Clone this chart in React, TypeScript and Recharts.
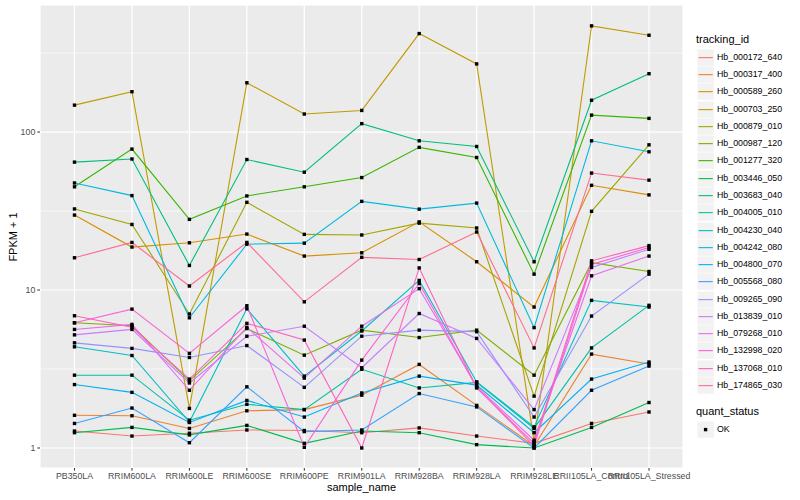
import React from "react";
import { LineChart, Line, XAxis, YAxis, CartesianGrid, ReferenceLine } from "recharts";

const samples = [
  "PB350LA", "RRIM600LA", "RRIM600LE", "RRIM600SE", "RRIM600PE", "RRIM901LA",
  "RRIM928BA", "RRIM928LA", "RRIM928LE", "RRII105LA_Control", "RRII105LA_Stressed",
];

const trackingIds = [
  "Hb_000172_640", "Hb_000317_400", "Hb_000589_260", "Hb_000703_250", "Hb_000879_010",
  "Hb_000987_120", "Hb_001277_320", "Hb_003446_050", "Hb_003683_040", "Hb_004005_010",
  "Hb_004230_040", "Hb_004242_080", "Hb_004800_070", "Hb_005568_080", "Hb_009265_090",
  "Hb_013839_010", "Hb_079268_010", "Hb_132998_020", "Hb_137068_010", "Hb_174865_030",
];

const hueColors = [
  "#F8766D", "#EA8331", "#D89000", "#C09B00", "#A3A500", "#7CAE00", "#39B600", "#00BB4E",
  "#00BF7D", "#00C1A3", "#00BFC4", "#00BAE0", "#00B0F6", "#35A2FF", "#9590FF", "#C77CFF",
  "#E76BF3", "#FA62DB", "#FF62BC", "#FF6C91",
];

// FPKM + 1, one value per sample
const hb000172_640 = [1.28, 1.19, 1.24, 1.3, 1.29, 1.25, 1.34, 1.19, 1.07, 1.43, 1.69];
const hb000317_400 = [1.61, 1.6, 1.33, 1.72, 1.75, 2.16, 3.38, 1.86, 1.03, 3.93, 3.4];
const hb000589_260 = [29.8, 18.7, 19.9, 22.6, 16.4, 17.2, 27.0, 15.1, 7.8, 46, 40];
const hb000703_250 = [148, 180, 1.78, 205, 130, 137, 420, 270, 1.1, 470, 410];
const hb000879_010 = [32.6, 26.0, 7.05, 35.9, 22.5, 22.3, 26.5, 24.7, 2.13, 31.5, 83];
const hb000987_120 = [6.2, 5.94, 2.66, 5.7, 3.87, 5.57, 5.0, 5.57, 2.89, 14.9, 13.1];
const hb001277_320 = [45, 78, 28, 39.4, 45, 51.5, 80, 69, 12.6, 128, 122];
const hb003446_050 = [1.25, 1.35, 1.21, 1.39, 1.07, 1.28, 1.25, 1.05, 1.0, 1.35, 1.94];
const hb003683_040 = [64.5, 67.5, 14.3, 67, 55.7, 113, 88, 81, 15.1, 159, 234];
const hb004005_010 = [2.89, 2.89, 1.5, 1.89, 1.75, 3.15, 2.4, 2.6, 1.33, 4.3, 8.0];
const hb004230_040 = [4.37, 3.85, 1.46, 7.6, 2.85, 5.5, 11.5, 2.62, 1.36, 8.6, 7.8];
const hb004242_080 = [47.6, 39.6, 6.67, 19.5, 19.8, 36.4, 32.5, 35.5, 5.78, 88, 75];
const hb004800_070 = [2.52, 2.25, 1.45, 2.0, 1.57, 2.23, 2.85, 2.5, 1.25, 2.73, 3.5];
const hb005568_080 = [1.43, 1.79, 1.08, 2.44, 1.27, 1.3, 2.21, 1.82, 1.0, 2.32, 3.3];
const hb009265_090 = [4.63, 4.27, 3.74, 4.45, 2.42, 5.1, 5.57, 5.45, 1.57, 6.84, 12.6];
const hb013839_010 = [5.2, 5.63, 2.58, 5.1, 5.9, 3.22, 7.1, 4.94, 1.75, 13.9, 18.1];
const hb079268_010 = [5.63, 6.06, 2.32, 5.8, 2.77, 5.9, 10.2, 2.45, 1.12, 12.3, 16.4];
const hb132998_020 = [6.2, 7.57, 3.97, 7.95, 1.01, 3.6, 11.0, 2.42, 1.03, 14.5, 18.6];
const hb137068_010 = [6.87, 5.81, 2.73, 6.15, 4.82, 1.0, 13.8, 2.4, 1.07, 15.3, 19.1];
const hb174865_030 = [16, 20, 10.6, 20, 8.42, 16.1, 15.6, 23.3, 4.3, 55, 49.6];

const seriesValues = [
  hb000172_640, hb000317_400, hb000589_260, hb000703_250, hb000879_010,
  hb000987_120, hb001277_320, hb003446_050, hb003683_040, hb004005_010,
  hb004230_040, hb004242_080, hb004800_070, hb005568_080, hb009265_090,
  hb013839_010, hb079268_010, hb132998_020, hb137068_010, hb174865_030,
];

const yTicks = [1, 10, 100];
const yMinor = [3.1623, 31.623, 316.23];

const data = samples.map((s, i) => {
  const row: Record<string, any> = { sample: s };
  trackingIds.forEach((id, k) => { row[id] = seriesValues[k][i]; });
  return row;
});

const FONT = "'Liberation Sans', Arial, Helvetica, sans-serif";
const TICK = { fill: "#4D4D4D", fontSize: 8.8, fontFamily: FONT };

const Square = (p: any) => {
  if (p.cx == null || p.cy == null) return <g key={p.index} />;
  return <rect key={p.index} x={p.cx - 1.7} y={p.cy - 1.7} width={3.4} height={3.4} fill="#000" />;
};

function LegendBox() {
  const pitch = 17.28;
  return (
    <div style={{ position: "absolute", left: 696, top: 0, fontFamily: FONT }}>
      <div style={{ position: "absolute", top: 33, left: 0, fontSize: 11, whiteSpace: "nowrap" }}>tracking_id</div>
      {trackingIds.map((id, i) => {
        const cy = 57.3 + i * pitch;
        return (
          <div key={id} style={{ position: "absolute", top: cy - 8.6, left: 1, height: 17.28, whiteSpace: "nowrap" }}>
            <svg width={17.28} height={17.28} style={{ position: "absolute", left: 0, top: 0 }}>
              <rect x={0.5} y={0.5} width={16.3} height={16.3} fill="#F2F2F2" />
              <line x1={1.5} x2={15.8} y1={8.64} y2={8.64} stroke={hueColors[i]} strokeWidth={1.1} />
            </svg>
            <span style={{ position: "absolute", left: 20, top: 3, fontSize: 8.8, color: "#000" }}>{id}</span>
          </div>
        );
      })}
      <div style={{ position: "absolute", top: 405, left: 0, fontSize: 11, whiteSpace: "nowrap" }}>quant_status</div>
      <div style={{ position: "absolute", top: 429.3 - 8.6, left: 1, height: 17.28 }}>
        <svg width={17.28} height={17.28} style={{ position: "absolute", left: 0, top: 0 }}>
          <rect x={0.5} y={0.5} width={16.3} height={16.3} fill="#F2F2F2" />
          <rect x={6.9} y={6.9} width={3.4} height={3.4} fill="#000" />
        </svg>
        <span style={{ position: "absolute", left: 20, top: 3, fontSize: 8.8 }}>OK</span>
      </div>
    </div>
  );
}

export default function App() {
  return (
    <div style={{ position: "absolute", left: 0, top: 0, width: 800, height: 500, background: "#fff", overflow: "hidden" }}>
      <LineChart width={800} height={500} data={data} margin={{ top: 5, right: 117, bottom: 0, left: 0 }}>
        <CartesianGrid fill="#EBEBEB" stroke="#FFFFFF" strokeWidth={1.2} />
        {yMinor.map((v) => (
          <ReferenceLine key={v} y={v} stroke="#FFFFFF" strokeWidth={0.6} ifOverflow="hidden" />
        ))}
        <XAxis
          dataKey="sample"
          interval={0}
          padding={{ left: 34.5, right: 34 }}
          height={32}
          axisLine={false}
          tickLine={{ stroke: "#333333" }}
          tickSize={2.7}
          tickMargin={2}
          tick={TICK}
        />
        <YAxis
          type="number"
          scale="log"
          domain={[0.747, 637]}
          allowDataOverflow
          ticks={yTicks}
          width={40}
          axisLine={false}
          tickLine={{ stroke: "#333333" }}
          tickSize={2.7}
          tickMargin={2}
          tick={TICK}
        />
        {trackingIds.map((id, i) => (
          <Line key={id} dataKey={id} stroke={hueColors[i]} strokeWidth={1.1} dot={false} activeDot={false} isAnimationActive={false} type="linear" />
        ))}
        {trackingIds.map((id) => (
          <Line key={id + "_pt"} dataKey={id} stroke="none" dot={Square} activeDot={false} isAnimationActive={false} legendType="none" />
        ))}
      </LineChart>
      <div style={{ position: "absolute", left: 0, width: 723, top: 481, textAlign: "center", fontFamily: FONT, fontSize: 11 }}>sample_name</div>
      <div style={{ position: "absolute", left: 13, top: 236.5, fontFamily: FONT, fontSize: 11, whiteSpace: "nowrap", transform: "translate(-50%, -50%) rotate(-90deg)" }}>FPKM + 1</div>
      <LegendBox />
    </div>
  );
}
